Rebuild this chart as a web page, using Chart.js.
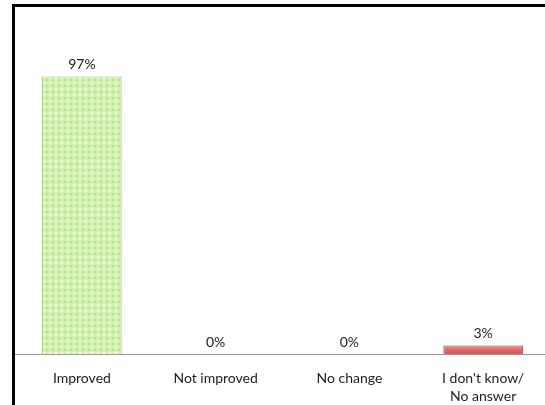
<!DOCTYPE html>
<html>
<head>
<meta charset="utf-8">
<script src="https://cdn.jsdelivr.net/npm/chart.js@4"></script>
<style>
  html, body { margin: 0; padding: 0; background: #fff; overflow: hidden; }
  body { width: 545px; height: 405px; position: relative; }
  #frame {
    position: absolute; left: 12px; top: 4px; width: 700px; height: 600px;
    border-left: 3px solid #000; border-top: 3px solid #000; box-sizing: border-box;
  }
  #wrap { position: absolute; left: 15px; top: 0; width: 535px; height: 405px; }
</style>
</head>
<body>
<div id="frame"></div>
<div id="wrap"><canvas id="c"></canvas></div>
<script>
const categories = ["Improved", "Not improved", "No change", ["I don't know/", "No answer"]];
const values = [97, 0, 0, 3];
const valueLabels = ["97%", "0%", "0%", "3%"];

// dotted light-green fill for the main bar
function greenPattern() {
  const p = document.createElement('canvas');
  p.width = 6; p.height = 6;
  const g = p.getContext('2d');
  g.fillStyle = '#d2f2b0'; g.fillRect(0, 0, 6, 6);
  g.fillStyle = '#b2e286'; g.fillRect(1, 1, 2, 2);
  g.fillStyle = '#f6fdee'; g.fillRect(4, 4, 2, 2);
  return g.createPattern(p, 'repeat');
}

// red bar with a lighter top edge
function redFill(context) {
  const chart = context.chart;
  const area = chart.chartArea;
  if (!area) return '#e06767';
  const y = chart.scales.y;
  const top = y.getPixelForValue(values[context.dataIndex]);
  const grad = chart.ctx.createLinearGradient(0, top, 0, area.bottom);
  grad.addColorStop(0, '#f29a9a');
  grad.addColorStop(0.45, '#e46a6a');
  grad.addColorStop(1, '#d45858');
  return grad;
}

const green = greenPattern();

const valueLabelPlugin = {
  id: 'valueLabels',
  afterDatasetsDraw(chart) {
    const ctx = chart.ctx;
    const meta = chart.getDatasetMeta(0);
    ctx.save();
    ctx.font = '14px Lato, "Liberation Sans", sans-serif';
    ctx.fillStyle = '#222';
    ctx.textAlign = 'center';
    ctx.textBaseline = 'bottom';
    meta.data.forEach((bar, i) => {
      ctx.fillText(valueLabels[i], bar.x, bar.y - 5);
    });
    ctx.restore();
  }
};

new Chart(document.getElementById('c'), {
  type: 'bar',
  data: {
    labels: categories,
    datasets: [{
      data: values,
      backgroundColor: (ctx) => ctx.dataIndex === 0 ? green : redFill(ctx),
      borderColor: ['#93cc66', '#a84040', '#a84040', '#a84040'],
      borderWidth: 1,
      barPercentage: 1,
      categoryPercentage: 0.595
    }]
  },
  options: {
    responsive: true,
    maintainAspectRatio: false,
    animation: false,
    layout: { padding: { top: 68, left: 0, right: 0, bottom: 0 } },
    plugins: { legend: { display: false }, tooltip: { enabled: false } },
    scales: {
      y: { display: false, min: 0, max: 100 },
      x: {
        grid: { display: false, drawTicks: false },
        border: { display: true, color: '#9a9a9a', width: 1 },
        ticks: {
          color: '#222',
          padding: 15,
          maxRotation: 0,
          font: { family: 'Lato, "Liberation Sans", sans-serif', size: 14, lineHeight: 1.3 }
        },
        afterFit(scale) { scale.height = 51; }
      }
    }
  },
  plugins: [valueLabelPlugin]
});
</script>
</body>
</html>
